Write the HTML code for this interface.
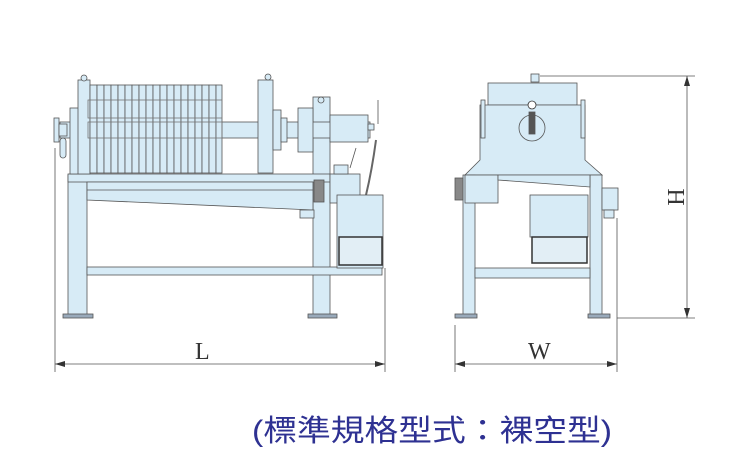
<!DOCTYPE html>
<html><head><meta charset="utf-8"><style>
html,body{margin:0;padding:0;background:#fff;}
svg{display:block}
</style></head><body>
<svg width="750" height="471" viewBox="0 0 750 471" xmlns="http://www.w3.org/2000/svg">
<defs>
<marker id="ar" viewBox="0 0 10 6" refX="10" refY="3" markerWidth="10" markerHeight="6" orient="auto-start-reverse" markerUnits="userSpaceOnUse"><path d="M0,0L10,3L0,6z" fill="#333"/></marker>
</defs>
<g fill="#d7ebf6" stroke="#555" stroke-width="0.8">
<!-- LEFT MACHINE -->
<rect x="68" y="175" width="19" height="142"/>
<rect x="63" y="314" width="30" height="4" fill="#9ab"/>
<rect x="313" y="97" width="17" height="220"/>
<rect x="308" y="314" width="29" height="4" fill="#9ab"/>
<rect x="68" y="174" width="262" height="8"/>
<polygon points="87,182 313,182 313,210 87,200"/>
<line x1="87" y1="190" x2="313" y2="190"/>
<rect x="300" y="210" width="14" height="8"/>
<rect x="87" y="267" width="295" height="8"/>
<!-- shaft -->
<rect x="60" y="122" width="310" height="16"/>
<rect x="54" y="118" width="5" height="24"/>
<rect x="59" y="124" width="8" height="12"/>
<rect x="60" y="138" width="6" height="20" rx="3"/>
<rect x="70" y="108" width="10" height="66"/>
<!-- plates -->
<rect x="78" y="80" width="12" height="94"/>
<circle cx="84" cy="78" r="3"/>
<rect x="90" y="85" width="7" height="88"/>
<rect x="97" y="85" width="7" height="88"/><rect x="104" y="85" width="7" height="88"/>
<rect x="111" y="85" width="7" height="88"/><rect x="118" y="85" width="7" height="88"/>
<rect x="125" y="85" width="7" height="88"/><rect x="132" y="85" width="7" height="88"/>
<rect x="139" y="85" width="7" height="88"/><rect x="146" y="85" width="7" height="88"/>
<rect x="153" y="85" width="7" height="88"/><rect x="160" y="85" width="7" height="88"/>
<rect x="167" y="85" width="7" height="88"/><rect x="174" y="85" width="7" height="88"/>
<rect x="181" y="85" width="7" height="88"/><rect x="188" y="85" width="7" height="88"/>
<rect x="195" y="85" width="7" height="88"/><rect x="202" y="85" width="7" height="88"/>
<rect x="209" y="85" width="7" height="88"/><rect x="216" y="85" width="6" height="88"/>
<rect x="88" y="100" width="134" height="18" fill="none" stroke="#777"/>
<rect x="88" y="122" width="134" height="16" fill="none" stroke="#777"/>
<!-- movable plate -->
<rect x="258" y="80" width="15" height="93"/>
<circle cx="268" cy="77" r="3"/>
<rect x="273" y="110" width="8" height="40"/>
<rect x="281" y="118" width="6" height="24"/>
<!-- cylinder -->
<rect x="298" y="108" width="15" height="44"/>
<rect x="330" y="115" width="38" height="27"/>
<circle cx="321" cy="100" r="3"/>
<rect x="368" y="124" width="6" height="6"/>
<line x1="378" y1="100" x2="378" y2="124"/>
<path d="M376,140 Q372,170 366,195" fill="none" stroke="#666" stroke-width="2"/>
<!-- control & tank -->
<rect x="330" y="174" width="30" height="29"/>
<rect x="334" y="165" width="14" height="9"/>
<line x1="350" y1="168" x2="356" y2="148"/>
<rect x="314" y="180" width="10" height="22" fill="#888"/>
<rect x="337" y="195" width="46" height="73"/>
<rect x="339" y="237" width="43" height="28" fill="#e2eef5" stroke="#333" stroke-width="1.5"/>
<!-- RIGHT MACHINE -->
<rect x="488" y="83" width="89" height="22"/>
<rect x="531" y="74" width="8" height="8"/>
<polygon points="480,105 585,105 585,160 602,175 465,175 480,160"/>
<rect x="481" y="100" width="4" height="38"/>
<rect x="581" y="100" width="4" height="38"/>
<circle cx="532" cy="128" r="13" fill="none" stroke="#555"/>
<circle cx="532" cy="105" r="4" fill="#fff" stroke="#333"/>
<rect x="529" y="112" width="6" height="22" fill="#555"/>
<rect x="463" y="175" width="12" height="142"/>
<rect x="455" y="314" width="22" height="4" fill="#9ab"/>
<rect x="590" y="175" width="12" height="142"/>
<rect x="588" y="314" width="22" height="4" fill="#9ab"/>
<rect x="465" y="175" width="33" height="28"/>
<rect x="455" y="178" width="8" height="22" fill="#888"/>
<polygon points="498,175 590,175 590,187 498,180"/>
<rect x="602" y="188" width="16" height="22"/>
<rect x="604" y="210" width="10" height="8"/>
<rect x="530" y="195" width="58" height="42"/>
<rect x="532" y="237" width="55" height="26" fill="#e2eef5" stroke="#333" stroke-width="1.5"/>
<rect x="475" y="268" width="115" height="10"/>
</g>
<!-- dimensions -->
<g stroke="#555" stroke-width="0.8" fill="none">
<line x1="55" y1="148" x2="55" y2="372"/>
<line x1="385" y1="268" x2="385" y2="372"/>
<line x1="55" y1="364" x2="385" y2="364" marker-start="url(#ar)" marker-end="url(#ar)"/>
<line x1="455" y1="325" x2="455" y2="372"/>
<line x1="617" y1="218" x2="617" y2="372"/>
<line x1="455" y1="364" x2="617" y2="364" marker-start="url(#ar)" marker-end="url(#ar)"/>
<line x1="540" y1="76" x2="695" y2="76"/>
<line x1="617" y1="318" x2="695" y2="318"/>
<line x1="687" y1="76" x2="687" y2="318" marker-start="url(#ar)" marker-end="url(#ar)"/>
</g>
<g font-family="Liberation Serif, serif" font-size="24" fill="#333">
<text x="195" y="359">L</text>
<text x="528" y="359">W</text>
<text x="668" y="197" transform="rotate(90 668 197)" text-anchor="middle">H</text>
</g>
<text x="252" y="441" textLength="360" lengthAdjust="spacingAndGlyphs" font-family="Liberation Sans, 'Noto Sans CJK TC', sans-serif" font-size="30" fill="#2e3192">(標準規格型式：裸空型)</text>
</svg>
</body></html>
